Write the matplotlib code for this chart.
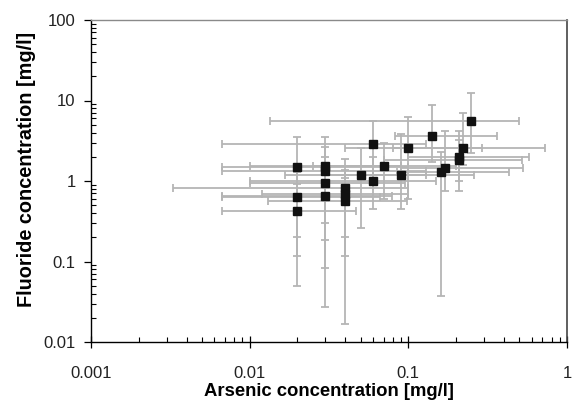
import numpy as np
import matplotlib
matplotlib.use("Agg")
import matplotlib.pyplot as plt
from matplotlib.ticker import FixedLocator, FixedFormatter, LogLocator, NullFormatter

plt.rcParams['font.family'] = ['Liberation Sans', 'DejaVu Sans']

# Data
arsenic = [0.02, 0.02, 0.02, 0.03, 0.03, 0.03, 0.03, 0.04, 0.04, 0.04, 0.05, 0.06,
           0.06, 0.07, 0.09, 0.10, 0.14, 0.16, 0.17, 0.21, 0.21, 0.22, 0.25]
fluoride = [1.50, 0.63, 0.43, 1.55, 1.32, 0.95, 0.66, 0.82, 0.68, 0.57, 1.18, 2.85,
            1.00, 1.53, 1.18, 2.60, 3.60, 1.28, 1.45, 2.00, 1.80, 2.55, 5.50]
arsenic_low = [0.0067, 0.0067, 0.0067, 0.010, 0.0067, 0.010, 0.0067, 0.0033, 0.012, 0.013,
               0.0166, 0.0067, 0.010, 0.025, 0.030, 0.040, 0.083, 0.085, 0.090, 0.100,
               0.070, 0.080, 0.0134]
arsenic_high = [0.10, 0.066, 0.047, 0.090, 0.130, 0.095, 0.079, 0.100, 0.099, 0.098,
                0.130, 0.130, 0.150, 0.200, 0.260, 0.290, 0.360, 0.430, 0.530, 0.580,
                0.520, 0.730, 0.500]
fluoride_low = [0.117, 0.050, 0.200, 0.185, 0.083, 0.027, 0.300, 0.0167, 0.117, 0.200,
                0.260, 1.20, 0.45, 0.60, 0.45, 0.60, 1.72, 0.037, 0.75, 0.75,
                1.00, 1.60, 2.20]
fluoride_high = [3.55, 1.30, 0.92, 3.55, 2.67, 2.00, 1.20, 1.88, 1.37, 1.10,
                 2.57, 5.56, 2.00, 2.96, 3.80, 6.20, 8.80, 2.30, 4.20, 4.20,
                 3.20, 7.00, 12.5]

x_ticks = [0.001, 0.01, 0.1, 1]
x_tick_labels = ["0.001", "0.01", "0.1", "1"]
y_ticks = [0.01, 0.1, 1, 10, 100]
y_tick_labels = ["0.01", "0.1", "1", "10", "100"]

x = np.array(arsenic)
y = np.array(fluoride)
xerr = np.array([x - np.array(arsenic_low), np.array(arsenic_high) - x])
yerr = np.array([y - np.array(fluoride_low), np.array(fluoride_high) - y])

fig = plt.figure(figsize=(5.77, 4.03), dpi=100)
ax = fig.add_axes([91/577, 1 - 342/403, (567 - 91)/577, (342 - 20)/403])

ax.errorbar(x, y, xerr=xerr, yerr=yerr, fmt='none', ecolor='#b5b5b5',
            elinewidth=1.3, capsize=3.2, capthick=1.3, zorder=2)
ax.plot(x, y, 's', color='#111111', markersize=6.4, zorder=3)

ax.set_xscale('log')
ax.set_yscale('log')
ax.set_xlim(0.001, 1)
ax.set_ylim(0.01, 100)

ax.xaxis.set_major_locator(FixedLocator(x_ticks))
ax.xaxis.set_major_formatter(FixedFormatter(x_tick_labels))
ax.yaxis.set_major_locator(FixedLocator(y_ticks))
ax.yaxis.set_major_formatter(FixedFormatter(y_tick_labels))
ax.xaxis.set_minor_locator(LogLocator(base=10, subs=np.arange(2, 10)))
ax.yaxis.set_minor_locator(LogLocator(base=10, subs=np.arange(2, 10)))
ax.xaxis.set_minor_formatter(NullFormatter())
ax.yaxis.set_minor_formatter(NullFormatter())

ax.tick_params(axis='x', which='major', direction='inout', length=8, width=0.9,
               pad=13, labelsize=12, top=False, labelcolor='#222222')
ax.tick_params(axis='y', which='major', direction='out', length=5, width=0.9,
               pad=6, labelsize=12, right=False, labelcolor='#222222')
ax.tick_params(axis='both', which='minor', direction='in', length=3.5, width=0.8,
               top=False, right=False)

for s in ['left', 'bottom']:
    ax.spines[s].set_color('black')
    ax.spines[s].set_linewidth(1.0)
ax.spines['top'].set_color('#8a8a8a')
ax.spines['top'].set_linewidth(1.0)
ax.spines['right'].set_color('#444444')
ax.spines['right'].set_linewidth(1.2)

ax.set_xlabel("Arsenic concentration [mg/l]", fontsize=13.3, fontweight='bold')
ax.set_ylabel("Fluoride concentration [mg/l]", fontsize=14.3, fontweight='bold')
ax.xaxis.set_label_coords((329 - 91) / 476, (342 - 391) / 322)
ax.yaxis.set_label_coords((27 - 91) / 476, (342 - 169) / 322)
ax.xaxis.label.set_va('center')
ax.yaxis.label.set_va('center')

fig.savefig("out.png", dpi=100)
